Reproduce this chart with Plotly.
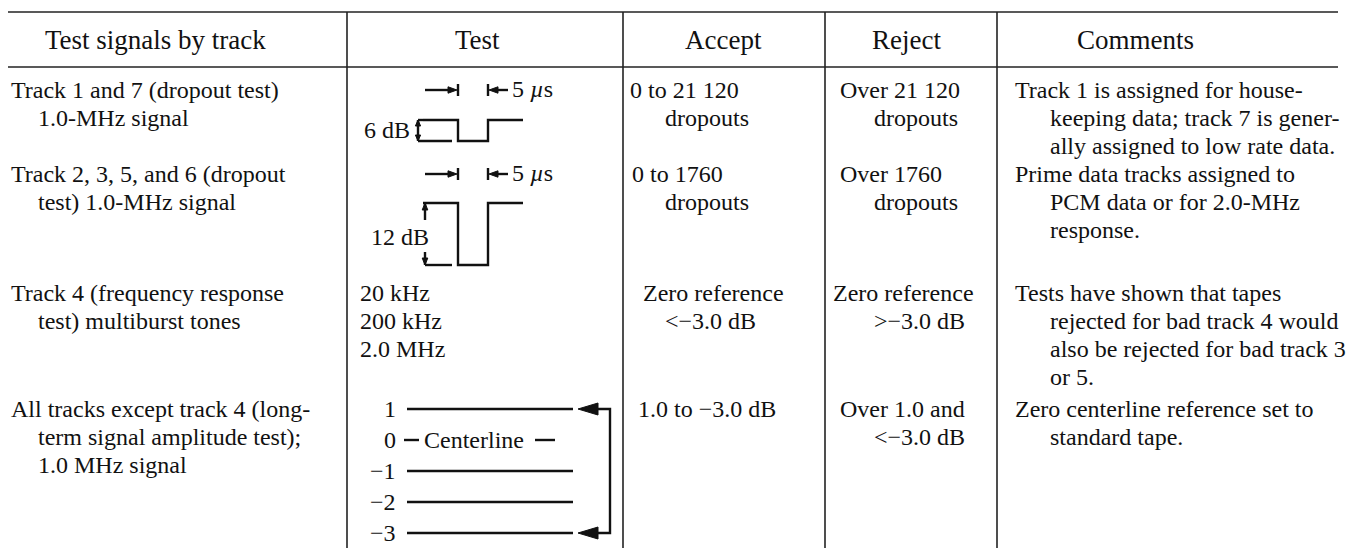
import plotly.graph_objects as go

# ---------------- data (table content) ----------------
headers = ["Test signals by track", "Test", "Accept", "Reject", "Comments"]

track_lines = [
    ["Track 1 and 7 (dropout test)", "1.0-MHz signal"],
    ["Track 2, 3, 5, and 6 (dropout", "test) 1.0-MHz signal"],
    ["Track 4 (frequency response", "test) multiburst tones"],
    ["All tracks except track 4 (long-", "term signal amplitude test);", "1.0 MHz signal"],
]
accept_lines = [
    ["0 to 21 120", "dropouts"],
    ["0 to 1760", "dropouts"],
    ["Zero reference", "&lt;\u22123.0 dB"],
    ["1.0 to \u22123.0 dB"],
]
reject_lines = [
    ["Over 21 120", "dropouts"],
    ["Over 1760", "dropouts"],
    ["Zero reference", "&gt;\u22123.0 dB"],
    ["Over 1.0 and", "&lt;\u22123.0 dB"],
]
comment_lines = [
    ["Track 1 is assigned for house-", "keeping data; track 7 is gener-", "ally assigned to low rate data."],
    ["Prime data tracks assigned to", "PCM data or for 2.0-MHz", "response."],
    ["Tests have shown that tapes", "rejected for bad track 4 would", "also be rejected for bad track 3", "or 5."],
    ["Zero centerline reference set to", "standard tape."],
]
dropout_levels_db = [6, 12]
dropout_width_us = 5
tone_freqs = ["20 kHz", "200 kHz", "2.0 MHz"]
amplitude_levels = [1, 0, -1, -2, -3]
centerline_label = "Centerline"

# ---------------- layout constants ----------------
W, H = 1359, 548
PAGE_MARGIN = 8          # default body margin of the html page
FONT = "Liberation Serif"
FS = 24
FS_HEAD = 27
INK = "#111111"

TOP_RULE_Y, HEAD_RULE_Y, RULE_X1 = 12, 67, 1338
COL_EDGES = [347, 623, 825, 997]
HEADER_X = [155, 477, 723, 906, 1135]
HEADER_Y = 40
ROW_Y = [90, 174, 293, 409]
PITCH = 28

TRACK_X = (9, 36)
ACCEPT_X = ([628, 630, 641, 636], 663)
REJECT_X = ([838, 838, 831, 838], 872)
COMMENT_X = (1013, 1048)
TONE_X = 358

PULSE_X = (423, 458, 488, 523)
PULSE_TOP = [120, 203]
PULSE_BOT = [141, 265]
AMP_PITCH = 31

fig = go.Figure()
annotations = []
shapes = []
seg_x, seg_y = [], []


def text(x, y, s, anchor="left", size=FS):
    annotations.append(dict(x=x, y=y, xref="x", yref="y", text=s, showarrow=False,
                            xanchor=anchor, yanchor="middle",
                            font=dict(family=FONT, size=size, color=INK)))


def seg(*pts):
    for p in pts:
        seg_x.append(p[0]); seg_y.append(p[1])
    seg_x.append(None); seg_y.append(None)


def tri(tx, ty, d, length, half):
    if d == "right":
        pts = [(tx, ty), (tx - length, ty - half), (tx - length, ty + half)]
    elif d == "left":
        pts = [(tx, ty), (tx + length, ty - half), (tx + length, ty + half)]
    elif d == "up":
        pts = [(tx, ty), (tx - half, ty + length), (tx + half, ty + length)]
    else:
        pts = [(tx, ty), (tx - half, ty - length), (tx + half, ty - length)]
    xs = [p[0] for p in pts] + [pts[0][0]]
    ys = [p[1] for p in pts] + [pts[0][1]]
    fig.add_trace(go.Scatter(x=xs, y=ys, mode="lines", fill="toself", fillcolor=INK,
                             line=dict(color=INK, width=1), hoverinfo="skip"))


# ---------------- table rules ----------------
for y in (TOP_RULE_Y, HEAD_RULE_Y):
    shapes.append(dict(type="line", xref="x", yref="y", x0=0, x1=RULE_X1, y0=y, y1=y,
                       line=dict(color="#222222", width=1.6)))
for x in COL_EDGES:
    shapes.append(dict(type="line", xref="x", yref="y", x0=x, x1=x, y0=TOP_RULE_Y, y1=H,
                       line=dict(color="#222222", width=1.6)))

# ---------------- headers ----------------
for hx, h in zip(HEADER_X, headers):
    text(hx, HEADER_Y, h, anchor="center", size=FS_HEAD)

# ---------------- body text ----------------
for r, lines in enumerate(track_lines):
    for i, s in enumerate(lines):
        text(TRACK_X[0] if i == 0 else TRACK_X[1], ROW_Y[r] + i * PITCH, s)
for r, lines in enumerate(accept_lines):
    for i, s in enumerate(lines):
        text(ACCEPT_X[0][r] if i == 0 else ACCEPT_X[1], ROW_Y[r] + i * PITCH, s)
for r, lines in enumerate(reject_lines):
    for i, s in enumerate(lines):
        text(REJECT_X[0][r] if i == 0 else REJECT_X[1], ROW_Y[r] + i * PITCH, s)
for r, lines in enumerate(comment_lines):
    for i, s in enumerate(lines):
        text(COMMENT_X[0] if i == 0 else COMMENT_X[1], ROW_Y[r] + i * PITCH, s)
for i, f in enumerate(tone_freqs):
    text(TONE_X, ROW_Y[2] + i * PITCH, f)

# ---------------- dropout pulse diagrams ----------------
x0, xf, xr, x1 = PULSE_X
for i, db in enumerate(dropout_levels_db):
    ay = ROW_Y[i]
    top = PULSE_TOP[i]
    bot = PULSE_BOT[i]
    # signal
    seg((x0, top), (xf, top), (xf, bot), (xr, bot), (xr, top), (x1, top))
    # timing marks
    seg((xf, ay - 6), (xf, ay + 6))
    seg((xr, ay - 6), (xr, ay + 6))
    seg((xf - 33, ay), (xf - 7, ay))
    tri(xf - 1, ay, "right", 9, 3.2)
    seg((xr + 7, ay), (xr + 20, ay))
    tri(xr + 1, ay, "left", 9, 3.2)
    text(xr + 22, ay - 1, f"{dropout_width_us} <i>\u00b5</i>s")
    # level dimension
    if i == 0:
        dx = x0 - 5
        seg((dx, top), (dx, bot))
        seg((dx, top), (x0, top))
        seg((dx, bot), (xf - 6, bot))
        tri(dx, top, "up", 6, 2.6)
        tri(dx, bot, "down", 6, 2.6)
        text(dx - 6, (top + bot) / 2 - 1, f"{db} dB", anchor="right")
    else:
        dx = x0 + 2
        seg((dx, top), (dx, top + 17))
        seg((dx, bot - 13), (dx, bot))
        seg((dx, bot), (xf - 6, bot))
        tri(dx, top, "up", 7, 2.8)
        tri(dx, bot, "down", 7, 2.8)
        text(dx + 6, (top + bot) / 2 + 3, f"{db} dB", anchor="right")

# ---------------- amplitude test diagram ----------------
LBL_X, LINE_X0, LINE_X1 = 398, 407, 573
BR_X, AR_TIP = 610, 578
ys = [ROW_Y[3] + j * AMP_PITCH for j in range(len(amplitude_levels))]
for lv, y in zip(amplitude_levels, ys):
    lab = str(lv).replace("-", "\u2212")
    text(LBL_X, y, lab, anchor="right")
    if lv == 0:
        seg((LINE_X0 - 3, y), (LINE_X0 + 12, y))
        text(LINE_X0 + 15, y, centerline_label)
        seg((LINE_X1 - 38, y), (LINE_X1 - 18, y))
    else:
        seg((LINE_X0, y), (LINE_X1, y))
seg((AR_TIP + 18, ys[0]), (BR_X, ys[0]), (BR_X, ys[-1]), (AR_TIP + 18, ys[-1]))
tri(AR_TIP, ys[0], "left", 20, 6)
tri(AR_TIP, ys[-1], "left", 20, 6)

fig.add_trace(go.Scatter(x=seg_x, y=seg_y, mode="lines",
                         line=dict(color=INK, width=2.4), hoverinfo="skip"))

# the page places the figure PAGE_MARGIN px from the top-left corner, so the
# axes are offset to keep data units equal to window pixels
fig.update_layout(
    width=W - PAGE_MARGIN, height=H - PAGE_MARGIN, margin=dict(l=0, r=0, t=0, b=0),
    paper_bgcolor="white", plot_bgcolor="white", showlegend=False,
    xaxis=dict(range=[PAGE_MARGIN, W], visible=False, fixedrange=True),
    yaxis=dict(range=[H, PAGE_MARGIN], visible=False, fixedrange=True),
    annotations=annotations, shapes=shapes,
)
fig.write_html("out.html")
